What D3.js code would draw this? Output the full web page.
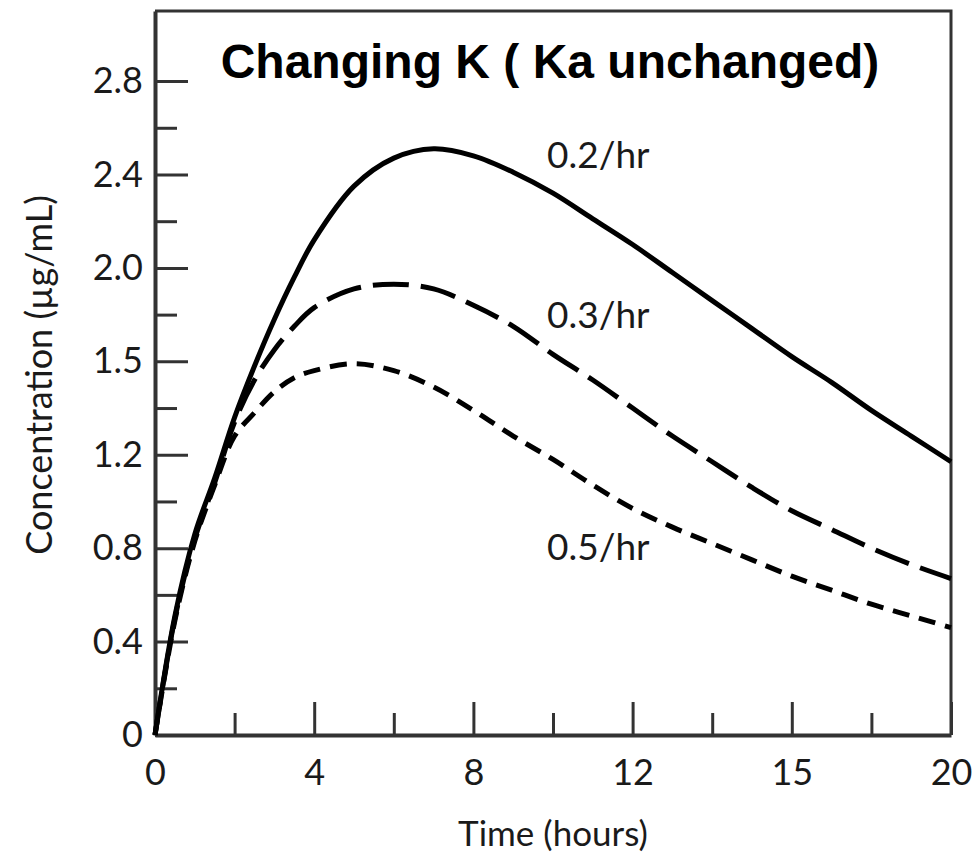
<!DOCTYPE html>
<html>
<head>
<meta charset="utf-8">
<script src="https://cdn.jsdelivr.net/npm/d3@7"></script>
<style>
  body { margin: 0; background: #fff; }
  svg { display: block; }
</style>
</head>
<body>
<div id="chart"></div>
<script>
// time points (hours)
const times = [0, 0.5, 1, 1.5, 2, 2.5, 3, 3.5, 4, 5, 6, 7, 8, 9, 10, 11, 12, 13, 14, 15, 16, 17, 18, 19, 20];

// concentration for each elimination rate K
const conc02 = [0, 0.51, 0.86, 1.10, 1.36, 1.58, 1.78, 1.96, 2.12, 2.35, 2.47, 2.51, 2.48, 2.41, 2.32, 2.21, 2.10, 1.98, 1.86, 1.74, 1.62, 1.51, 1.39, 1.28, 1.17];
const conc03 = [0, 0.50, 0.84, 1.08, 1.34, 1.52, 1.65, 1.75, 1.83, 1.91, 1.93, 1.91, 1.84, 1.75, 1.63, 1.52, 1.40, 1.28, 1.17, 1.06, 0.96, 0.88, 0.80, 0.73, 0.67];
const conc05 = [0, 0.49, 0.83, 1.07, 1.28, 1.38, 1.47, 1.53, 1.56, 1.59, 1.56, 1.49, 1.39, 1.28, 1.18, 1.07, 0.97, 0.89, 0.82, 0.75, 0.68, 0.62, 0.56, 0.51, 0.46];

const seriesLabels = ["0.2/hr", "0.3/hr", "0.5/hr"];

// axis ticks (the figure prints 1.5 and 15 at the 1.6 and 16 positions)
const xTickValues = [0, 4, 8, 12, 16, 20];
const xTickLabels = ["0", "4", "8", "12", "15", "20"];
const xMinorTicks = [2, 6, 10, 14, 18];
const yTickValues = [0, 0.4, 0.8, 1.2, 1.6, 2.0, 2.4, 2.8];
const yTickLabels = ["0", "0.4", "0.8", "1.2", "1.5", "2.0", "2.4", "2.8"];
const yMinorTicks = [0.2, 0.6, 1.0, 1.4, 1.8, 2.2, 2.6];

const width = 975, height = 858;
const plot = { left: 155, right: 951, top: 11, bottom: 735 };
const labelFont = "Lato, 'Open Sans', sans-serif";

const svg = d3.select("#chart").append("svg")
  .attr("width", width)
  .attr("height", height);

const x = d3.scaleLinear().domain([0, 20]).range([plot.left, plot.right]);
const y = d3.scaleLinear().domain([0, 3.1]).range([plot.bottom, plot.top]);

// frame (top + right)
svg.append("path")
  .attr("d", `M${plot.left},${plot.top}H${plot.right}V${plot.bottom}`)
  .attr("fill", "none")
  .attr("stroke", "#333")
  .attr("stroke-width", 3);

// minor ticks first, no labels
svg.append("g")
  .attr("transform", `translate(0,${plot.bottom})`)
  .call(d3.axisBottom(x).tickValues(xMinorTicks).tickSizeInner(-22).tickSizeOuter(0).tickFormat(""))
  .call(g => g.select(".domain").remove());

svg.append("g")
  .attr("transform", `translate(${plot.left},0)`)
  .call(d3.axisLeft(y).tickValues(yMinorTicks).tickSizeInner(-22).tickSizeOuter(0).tickFormat(""))
  .call(g => g.select(".domain").remove());

// major axes
svg.append("g")
  .attr("transform", `translate(0,${plot.bottom})`)
  .call(d3.axisBottom(x)
    .tickValues(xTickValues)
    .tickSizeInner(-33)
    .tickSizeOuter(0)
    .tickPadding(24)
    .tickFormat((d, i) => xTickLabels[i]));

svg.append("g")
  .attr("transform", `translate(${plot.left},0)`)
  .call(d3.axisLeft(y)
    .tickValues(yTickValues)
    .tickSizeInner(-33)
    .tickSizeOuter(0)
    .tickPadding(12)
    .tickFormat((d, i) => yTickLabels[i]));

svg.selectAll(".tick line").attr("stroke", "#333").attr("stroke-width", 3);
svg.selectAll(".domain").attr("stroke", "#333").attr("stroke-width", 4);
svg.selectAll(".tick text")
  .attr("font-family", labelFont)
  .attr("font-size", 36)
  .attr("fill", "#1a1a1a");

// curves
const series = [
  { label: seriesLabels[0], values: conc02, dash: null, labelY: 168 },
  { label: seriesLabels[1], values: conc03, dash: "36,12", labelY: 328 },
  { label: seriesLabels[2], values: conc05, dash: "17,10", labelY: 560 }
];

const line = d3.line()
  .x((d, i) => x(times[i]))
  .y(d => y(d))
  .curve(d3.curveCatmullRom.alpha(0.5));

svg.selectAll(".curve")
  .data(series)
  .enter()
  .append("path")
  .attr("class", "curve")
  .attr("d", d => line(d.values))
  .attr("fill", "none")
  .attr("stroke", "#000")
  .attr("stroke-width", 5)
  .attr("stroke-dasharray", d => d.dash);

svg.selectAll(".curve-label")
  .data(series)
  .enter()
  .append("text")
  .attr("class", "curve-label")
  .attr("x", 547)
  .attr("y", d => d.labelY)
  .attr("font-family", labelFont)
  .attr("font-size", 37)
  .attr("fill", "#1a1a1a")
  .text(d => d.label);

// titles
svg.append("text")
  .attr("x", 550)
  .attr("y", 78)
  .attr("text-anchor", "middle")
  .attr("font-family", "'Liberation Sans', Arial, sans-serif")
  .attr("font-weight", "bold")
  .attr("font-size", 48)
  .attr("fill", "#000")
  .text("Changing K ( Ka unchanged)");

svg.append("text")
  .attr("x", (plot.left + plot.right) / 2)
  .attr("y", 846)
  .attr("text-anchor", "middle")
  .attr("font-family", labelFont)
  .attr("font-size", 35)
  .attr("fill", "#1a1a1a")
  .text("Time (hours)");

svg.append("text")
  .attr("transform", "translate(52,375) rotate(-90)")
  .attr("text-anchor", "middle")
  .attr("font-family", labelFont)
  .attr("font-size", 36)
  .attr("fill", "#1a1a1a")
  .text("Concentration (µg/mL)");
</script>
</body>
</html>
